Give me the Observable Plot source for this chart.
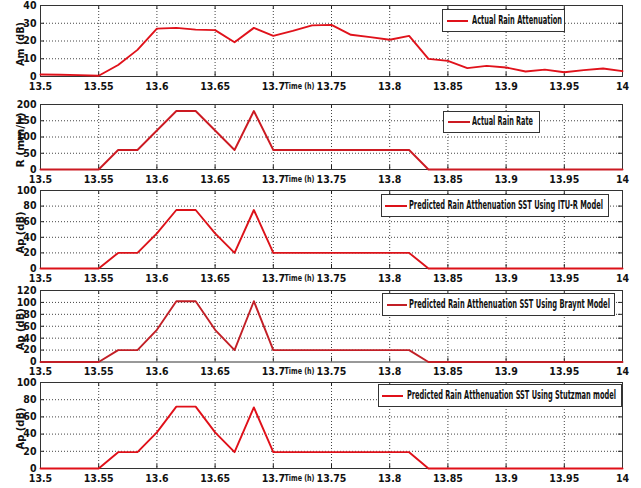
<!DOCTYPE html>
<html>
<head>
<meta charset="utf-8">
<script src="https://cdn.jsdelivr.net/npm/d3@7"></script>
<script src="https://cdn.jsdelivr.net/npm/@observablehq/plot@0.6"></script>
<style>
  html, body { margin: 0; padding: 0; background: #fff; }
  #wrap { position: relative; width: 641px; height: 488px; overflow: hidden; background: #fff; }
  #wrap svg { position: absolute; left: 0; }
  .lg { position: absolute; background: #fff; border: 1px solid #333; box-sizing: border-box; z-index: 5; }
  .lg .ln { position: absolute; height: 2px; }
  .lg .tx { position: absolute; white-space: nowrap; font-family: "Liberation Sans Narrow", "DejaVu Sans Condensed", sans-serif; font-weight: bold; font-size: 12px; color: #111; transform-origin: 0 50%; line-height: 13px; }
</style>
</head>
<body>
<div id="wrap"></div>
<script>
// ---- data ----
const times = [13.5, 13.5167, 13.5333, 13.55, 13.5667, 13.5833, 13.6, 13.6167, 13.6333, 13.65,
  13.6667, 13.6833, 13.7, 13.7167, 13.7333, 13.75, 13.7667, 13.7833, 13.8, 13.8167,
  13.8333, 13.85, 13.8667, 13.8833, 13.9, 13.9167, 13.9333, 13.95, 13.9667, 13.9833, 14.0];
const attenuation = [1.1, 1.0, 0.8, 0.4, 6.5, 15, 27, 27.4, 26.4, 26.1,
  19.3, 27.4, 22.9, 25.7, 28.8, 29.1, 23.5, 22.2, 20.7, 22.9,
  9.9, 8.8, 4.7, 6, 5.1, 2.8, 3.9, 2.4, 3.6, 4.5, 3];
const rainRate = [0, 0, 0, 0, 60, 60, 120, 180, 180, 120,
  60, 180, 60, 60, 60, 60, 60, 60, 60, 60,
  0, 0, 0, 0, 0, 0, 0, 0, 0, 0, 0];
const ituModel = [0, 0, 0, 0, 20, 20, 45, 75, 75, 45,
  20, 75, 20, 20, 20, 20, 20, 20, 20, 20,
  0, 0, 0, 0, 0, 0, 0, 0, 0, 0, 0];
const brayntModel = [0, 0, 0, 0, 20, 20, 54, 102, 102, 54,
  20, 102, 20, 20, 20, 20, 20, 20, 20, 20,
  0, 0, 0, 0, 0, 0, 0, 0, 0, 0, 0];
const stutzmanModel = [0, 0, 0, 0, 19, 19, 42, 72, 72, 42,
  19, 71, 19, 19, 19, 19, 19, 19, 19, 19,
  0, 0, 0, 0, 0, 0, 0, 0, 0, 0, 0];

const xTicks = [13.5, 13.55, 13.6, 13.65, 13.7, 13.75, 13.8, 13.85, 13.9, 13.95, 14];
const amTicks = [0, 10, 20, 30, 40];
const rateTicks = [0, 50, 100, 150, 200];
const ituTicks = [0, 20, 40, 60, 80, 100];
const brayntTicks = [0, 20, 40, 60, 80, 100, 120];
const stutzTicks = [0, 20, 40, 60, 80, 100];

const yLabels = ["Am (dB)", "R (mm/h)", "Ap (dB)", "Ap (dB)", "Ap (dB)"];
const legendNames = [
  "Actual Rain Attenuation",
  "Actual Rain Rate",
  "Predicted Rain Atthenuation SST Using ITU-R Model",
  "Predicted Rain Atthenuation SST Using Braynt Model",
  "Predicted Rain Atthenuation SST Using Stutzman model"
];
const xLabel = "Time (h)";

// ---- layout (pixels) ----
const series = [attenuation, rainRate, ituModel, brayntModel, stutzmanModel];
const yTicksAll = [amTicks, rateTicks, ituTicks, brayntTicks, stutzTicks];
const colors = ["#e0121b", "#cc1a22", "#dc1219", "#c21f26", "#e01019"];
const frames = [[5, 76], [104, 169], [190, 268], [290, 361.5], [382, 468]];
const yLabelLengths = [44, 55, 42, 42, 42];
const xLabelLength = 30;
// legend: left, top, width, height, lineX1, lineX2, lineY, textX, textX2
const legends = [
  [442, 9, 123, 23, 447, 468, 21, 472, 562],
  [443, 111, 97, 22, 448, 470, 122, 472, 533],
  [381, 194, 228, 23, 385, 407, 206, 409, 603],
  [382, 293, 233, 23, 387, 407, 305, 409, 610],
  [378, 384, 244, 23, 382, 403, 396, 407, 616]
];

const wrap = document.getElementById("wrap");
const font = "'Liberation Sans Narrow', 'DejaVu Sans Condensed', sans-serif";
const mT = 10, mB = 24, mL = 40, mR = 19;

series.forEach((vals, i) => {
  const [top, bottom] = frames[i];
  const ph = bottom - top;
  const yt = yTicksAll[i];
  const data = times.map((t, j) => ({t, v: vals[j]}));
  const inner = yt.slice(1, -1);
  const innerX = xTicks.slice(1, -1);
  const plot = Plot.plot({
    width: 641,
    height: ph + mT + mB,
    marginTop: mT, marginBottom: mB, marginLeft: mL, marginRight: mR,
    style: {background: "transparent", overflow: "visible", fontFamily: font, fontSize: "10.5px", fontWeight: "bold"},
    x: {domain: [13.5, 14]},
    y: {domain: [yt[0], yt[yt.length - 1]]},
    marks: [
      Plot.gridX(innerX, {stroke: "#444", strokeOpacity: 1, strokeDasharray: "1,2"}),
      Plot.gridY(inner, {stroke: "#444", strokeOpacity: 1, strokeDasharray: "1,2"}),
      Plot.ruleX(innerX, {x: d => d, stroke: "#222", insetTop: ph - 4}),
      Plot.ruleX(innerX, {x: d => d, stroke: "#222", insetBottom: ph - 4}),
      Plot.ruleY(inner, {y: d => d, stroke: "#222", insetRight: 578}),
      Plot.ruleY(inner, {y: d => d, stroke: "#222", insetLeft: 578}),
      Plot.frame({stroke: "#333"}),
      Plot.axisX({ticks: xTicks, tickSize: 0, tickPadding: 6, label: null, fill: "#111",
        tickFormat: d => String(+d.toFixed(2))}),
      Plot.axisY({ticks: yt, tickSize: 0, tickPadding: 4, label: null, fill: "#111"}),
      Plot.text([xLabel], {frameAnchor: "bottom", dx: -32, dy: 12, fill: "#111", fontSize: 9}),
      Plot.text([yLabels[i]], {frameAnchor: "left", dx: -20, dy: 3, rotate: -90, fill: "#111",
        textAnchor: "middle", fontSize: 10, fontWeight: "bold", fontFamily: "DejaVu Sans"}),
      Plot.line(data, {x: "t", y: "v", stroke: colors[i], strokeWidth: 1.9})
    ]
  });
  plot.style.top = (top - mT) + "px";
  wrap.appendChild(plot);
  plot.querySelectorAll("text").forEach(t => {
    if (t.textContent === yLabels[i]) {
      t.setAttribute("textLength", yLabelLengths[i]);
      t.setAttribute("lengthAdjust", "spacingAndGlyphs");
    } else if (t.textContent === xLabel) {
      t.setAttribute("textLength", xLabelLength);
      t.setAttribute("lengthAdjust", "spacingAndGlyphs");
    }
  });

  const [lx, ly, lw, lh, a1, a2, ay, tx, tx2] = legends[i];
  const box = document.createElement("div");
  box.className = "lg";
  box.style.left = lx + "px"; box.style.top = ly + "px";
  box.style.width = lw + "px"; box.style.height = lh + "px";
  const ln = document.createElement("div");
  ln.className = "ln";
  ln.style.left = (a1 - lx - 1) + "px"; ln.style.width = (a2 - a1) + "px";
  ln.style.top = (ay - ly - 2) + "px"; ln.style.background = colors[i];
  const tx_ = document.createElement("span");
  tx_.className = "tx";
  tx_.textContent = legendNames[i];
  tx_.style.left = (tx - lx - 1) + "px";
  tx_.style.top = (ay - ly - 8) + "px";
  box.appendChild(ln); box.appendChild(tx_);
  wrap.appendChild(box);
  const w = tx_.getBoundingClientRect().width;
  const s = (tx2 - tx) / w;
  tx_.style.transform = `scaleX(${s})`;
});
</script>
</body>
</html>
